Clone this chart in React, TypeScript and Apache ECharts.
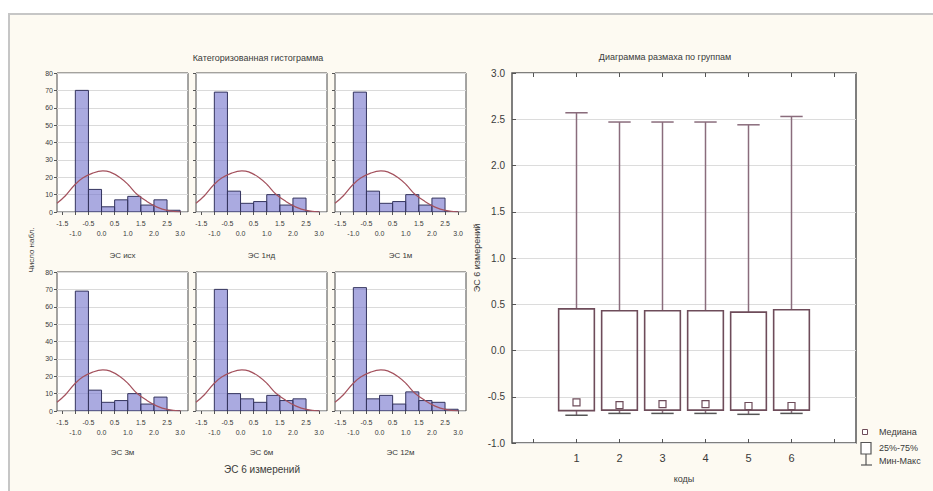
import React, { useEffect, useRef } from 'react';
import * as echarts from 'echarts';

// ---------- data ----------
const panelNames = ['ЭС исх', 'ЭС 1нд', 'ЭС 1м', 'ЭС 3м', 'ЭС 6м', 'ЭС 12м'];
const binEdges = [-1.0, -0.5, 0.0, 0.5, 1.0, 1.5, 2.0, 2.5, 3.0];
const counts1 = [70, 13, 3, 7, 9, 4, 7, 1];
const counts2 = [69, 12, 5, 6, 10, 4, 8, 0];
const counts3 = [69, 12, 5, 6, 10, 4, 8, 0];
const counts4 = [69, 12, 5, 6, 10, 4, 8, 0];
const counts5 = [70, 10, 7, 5, 9, 6, 7, 0];
const counts6 = [71, 7, 9, 4, 11, 6, 5, 1];
const curveX = [-1.7, -1.37, -1.02, -0.72, -0.34, 0.05, 0.31, 0.7, 1.02, 1.34, 1.73, 2.12, 2.51, 3.02];
const curveY = [5.0, 9.5, 15.7, 19.5, 22.4, 23.7, 23.1, 19.9, 15.7, 10.4, 6.1, 2.8, 0.9, 0];
const histXTicks = [-1.5, -1.0, -0.5, 0.0, 0.5, 1.0, 1.5, 2.0, 2.5, 3.0];

const groups = ['1', '2', '3', '4', '5', '6'];
const boxMin = [-0.7, -0.68, -0.68, -0.68, -0.69, -0.68];
const boxQ1 = [-0.65, -0.645, -0.645, -0.645, -0.645, -0.645];
const boxMedian = [-0.56, -0.59, -0.58, -0.58, -0.6, -0.6];
const boxQ3 = [0.45, 0.43, 0.43, 0.43, 0.415, 0.44];
const boxMax = [2.57, 2.47, 2.47, 2.47, 2.44, 2.53];

const FONT = "'Liberation Sans Narrow', 'Liberation Sans', Arial, sans-serif";
const TXT = '#3a3a3a';

export default function App() {
  const ref = useRef<HTMLDivElement>(null);
  useEffect(() => {
    const chart = echarts.init(ref.current!, null, { renderer: 'svg' });
    const countsList = [counts1, counts2, counts3, counts4, counts5, counts6];
    const gridLefts = [57, 196, 335];
    const grids: any[] = [];
    const xAxes: any[] = [];
    const yAxes: any[] = [];
    const series: any[] = [];

    const barRender = (params: any, api: any) => {
      const p0 = api.coord([api.value(0), 0]);
      const p1 = api.coord([api.value(1), api.value(2)]);
      return {
        type: 'rect',
        shape: { x: p0[0], y: p1[1], width: p1[0] - p0[0], height: p0[1] - p1[1] },
        style: { fill: 'rgba(118,118,205,0.62)', stroke: '#34345e', lineWidth: 1 },
      };
    };

    countsList.forEach((counts, i) => {
      const row = Math.floor(i / 3);
      const col = i % 3;
      grids.push({
        left: gridLefts[col], top: row ? 272 : 73, width: 131, height: 139,
        show: true, backgroundColor: '#ffffff', borderColor: '#4a4a4a', borderWidth: 1,
      });
      xAxes.push({
        type: 'value', gridIndex: i, min: -1.7, max: 3.3,
        name: panelNames[i], nameLocation: 'middle', nameGap: row ? 37 : 39,
        nameTextStyle: { fontSize: 8, color: TXT, fontFamily: FONT },
        axisLine: { show: false, onZero: false },
        axisTick: { show: true, customValues: histXTicks, length: 3, lineStyle: { color: '#555' } },
        splitLine: { show: false },
        axisLabel: {
          customValues: histXTicks, fontSize: 7, lineHeight: 10, margin: 6, color: TXT, fontFamily: FONT,
          formatter: (v: number) => {
            const s = v.toFixed(1);
            return Math.round(v * 2) % 2 !== 0 ? s : '\n' + s;
          },
        },
      });
      yAxes.push({
        type: 'value', gridIndex: i, min: 0, max: 80, interval: 10,
        axisLine: { show: false, onZero: false },
        axisTick: { show: true, length: 3, lineStyle: { color: '#555' } },
        splitLine: { show: true, lineStyle: { color: '#dadada', width: 1 } },
        axisLabel: { show: col === 0, fontSize: 7, margin: 4, color: TXT, fontFamily: FONT },
      });
      series.push({
        type: 'custom', xAxisIndex: i, yAxisIndex: i,
        data: counts.map((c, k) => [binEdges[k], binEdges[k + 1], c]),
        encode: { x: [0, 1], y: 2 }, renderItem: barRender, z: 2, clip: true,
      });
      series.push({
        type: 'line', xAxisIndex: i, yAxisIndex: i,
        data: curveX.map((x, k) => [x, curveY[k]]),
        smooth: 0.4, showSymbol: false, clip: true,
        lineStyle: { color: '#a4525e', width: 1.2 }, z: 3,
      });
    });

    // box plot
    const bi = 6;
    const boxCats = [''].concat(groups).concat(['']);
    grids.push({
      left: 512, top: 73, width: 344, height: 370,
      show: true, backgroundColor: '#ffffff', borderColor: '#555555', borderWidth: 1.5,
    });
    xAxes.push({
      type: 'category', gridIndex: bi, data: boxCats, position: 'bottom',
      name: 'коды', nameLocation: 'middle', nameGap: 31,
      nameTextStyle: { fontSize: 9, color: TXT, fontFamily: FONT },
      axisLine: { show: false, onZero: false },
      axisTick: { show: true, alignWithLabel: true, interval: 0, inside: true, length: 4, lineStyle: { color: '#555' } },
      axisLabel: { interval: 0, fontSize: 11, margin: 9, color: TXT, fontFamily: FONT },
      splitLine: { show: false },
    });
    xAxes.push({
      type: 'category', gridIndex: bi, data: boxCats, position: 'top',
      axisLine: { show: false, onZero: false },
      axisTick: { show: true, alignWithLabel: true, interval: 0, inside: true, length: 4, lineStyle: { color: '#555' } },
      axisLabel: { show: false },
      splitLine: { show: false },
    });
    yAxes.push({
      type: 'value', gridIndex: bi, min: -1, max: 3, interval: 0.5,
      name: 'ЭС 6 измерений', nameLocation: 'middle', nameGap: 31, nameRotate: 90,
      nameTextStyle: { fontSize: 9, color: TXT, fontFamily: FONT },
      axisLine: { show: false, onZero: false },
      axisTick: { show: true, inside: true, length: 4, lineStyle: { color: '#555' } },
      splitLine: { show: true, lineStyle: { color: '#dcdcdc' } },
      axisLabel: { fontSize: 10, margin: 7, color: TXT, fontFamily: FONT, formatter: (v: number) => v.toFixed(1) },
    });
    const boxStroke = '#6e4c5a';
    const whiskStroke = '#8a6c7c';
    series.push({
      type: 'custom', xAxisIndex: bi, yAxisIndex: bi,
      data: groups.map((g, k) => [k + 1, boxMin[k], boxQ1[k], boxMedian[k], boxQ3[k], boxMax[k]]),
      encode: { x: 0, y: [1, 2, 3, 4, 5] },
      renderItem: (params: any, api: any) => {
        const idx = api.value(0);
        const mn = api.value(1), q1 = api.value(2), md = api.value(3), q3 = api.value(4), mx = api.value(5);
        const bw = api.size([1, 0])[0];
        const boxW = bw * 0.83;
        const capW = bw * 0.52;
        const cx = api.coord([idx, 0])[0];
        const y = (v: number) => api.coord([idx, v])[1];
        const ls = { stroke: whiskStroke, lineWidth: 1.5 };
        return {
          type: 'group',
          children: [
            { type: 'line', shape: { x1: cx, y1: y(q3), x2: cx, y2: y(mx) }, style: ls },
            { type: 'line', shape: { x1: cx - capW / 2, y1: y(mx), x2: cx + capW / 2, y2: y(mx) }, style: ls },
            { type: 'line', shape: { x1: cx, y1: y(q1), x2: cx, y2: y(mn) }, style: ls },
            { type: 'line', shape: { x1: cx - capW / 2, y1: y(mn), x2: cx + capW / 2, y2: y(mn) }, style: { stroke: '#555', lineWidth: 1.5 } },
            { type: 'rect', shape: { x: cx - boxW / 2, y: y(q3), width: boxW, height: y(q1) - y(q3) }, style: { fill: 'rgba(255,255,255,0)', stroke: boxStroke, lineWidth: 1.6 } },
            { type: 'rect', shape: { x: cx - 3.5, y: y(md) - 3.5, width: 7, height: 7 }, style: { fill: '#ffffff', stroke: boxStroke, lineWidth: 1.2 } },
          ],
        };
      },
      z: 3,
    });

    const option: any = {
      animation: false,
      textStyle: { fontFamily: FONT },
      grid: grids,
      xAxis: xAxes,
      yAxis: yAxes,
      series,
      graphic: [
        { type: 'text', x: 258, y: 58, style: { text: 'Категоризованная гистограмма', fontSize: 9, fill: TXT, fontFamily: FONT, align: 'center', verticalAlign: 'middle' } },
        { type: 'text', x: 665, y: 57, style: { text: 'Диаграмма размаха по группам', fontSize: 9, fill: TXT, fontFamily: FONT, align: 'center', verticalAlign: 'middle' } },
        { type: 'text', x: 262, y: 469, style: { text: 'ЭС 6 измерений', fontSize: 10, fill: TXT, fontFamily: FONT, align: 'center', verticalAlign: 'middle' } },
        { type: 'text', x: 31, y: 250, rotation: Math.PI / 2, style: { text: 'Число набл.', fontSize: 8, fill: TXT, fontFamily: FONT, align: 'center', verticalAlign: 'middle' } },
        // legend
        { type: 'rect', shape: { x: 862.5, y: 429.5, width: 5, height: 5 }, style: { fill: '#fff', stroke: boxStroke, lineWidth: 1 } },
        { type: 'text', x: 879, y: 432, style: { text: 'Медиана', fontSize: 9, fill: TXT, fontFamily: FONT, align: 'left', verticalAlign: 'middle' } },
        { type: 'rect', shape: { x: 861, y: 442.5, width: 10, height: 11.5 }, style: { fill: '#fff', stroke: '#555', lineWidth: 1.2 } },
        { type: 'text', x: 879, y: 448, style: { text: '25%-75%', fontSize: 9, fill: TXT, fontFamily: FONT, align: 'left', verticalAlign: 'middle' } },
        { type: 'line', shape: { x1: 866, y1: 454, x2: 866, y2: 465 }, style: { stroke: '#555', lineWidth: 1.2 } },
        { type: 'line', shape: { x1: 861, y1: 465, x2: 872, y2: 465 }, style: { stroke: '#555', lineWidth: 1.2 } },
        { type: 'text', x: 879, y: 461, style: { text: 'Мин-Макс', fontSize: 9, fill: TXT, fontFamily: FONT, align: 'left', verticalAlign: 'middle' } },
      ],
    };
    chart.setOption(option);
    return () => chart.dispose();
  }, []);

  return (
    <div style={{ position: 'fixed', left: 0, top: 0, width: 933, height: 491, background: '#ffffff', overflow: 'hidden' }}>
      <div style={{ position: 'absolute', left: 8, top: 13, right: 0, bottom: 0, background: '#fdfaf2', borderLeft: '2px solid #c6c6c6', borderTop: '2px solid #c6c6c6' }} />
      <div ref={ref} style={{ position: 'absolute', left: 0, top: 0, width: 933, height: 491 }} />
    </div>
  );
}
